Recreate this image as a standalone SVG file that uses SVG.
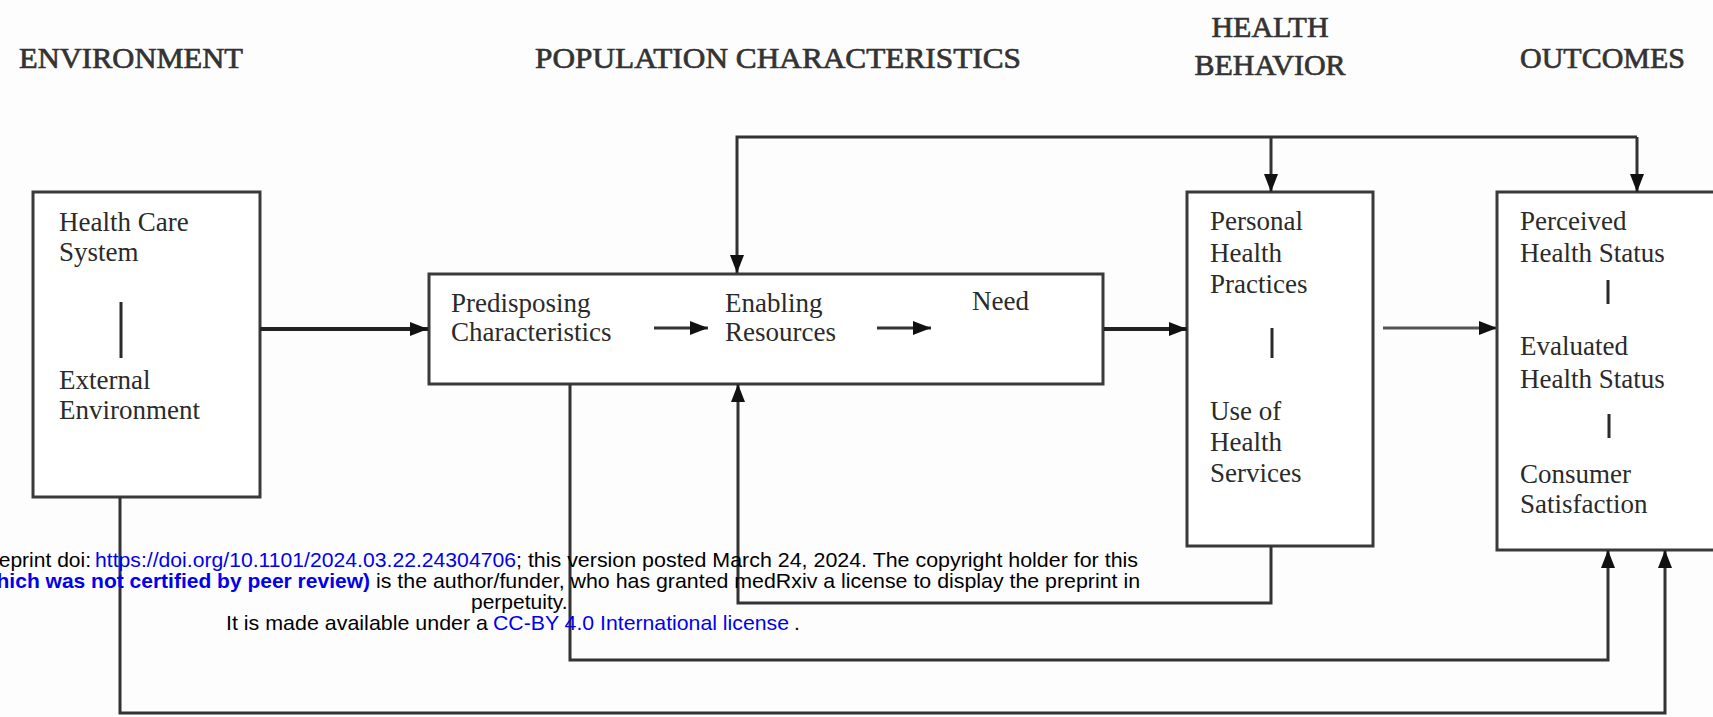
<svg xmlns="http://www.w3.org/2000/svg" width="1713" height="717" viewBox="0 0 1713 717">
<style>
.hdr{font-family:"Liberation Serif","Times New Roman",serif;font-size:30px;fill:#333;stroke:#333;stroke-width:0.7}
.lbl{font-family:"Liberation Serif","Times New Roman",serif;font-size:27px;fill:#2a2a2a}
.box{fill:#fff;stroke:#3a3a3a;stroke-width:3}
.bar{stroke:#2a2a2a;stroke-width:3}
.con{fill:none;stroke:#333;stroke-width:3}
.thick{stroke-width:4;stroke:#222}
.light{stroke:#555}
.ft{font-family:"Liberation Sans",Arial,sans-serif;font-size:21px;fill:#000}
.blue{fill:#0000ee}
</style>
<defs>
<marker id="ah" markerUnits="userSpaceOnUse" markerWidth="18" markerHeight="14" refX="18" refY="7" orient="auto">
<path d="M0,0 L18,7 L0,14 z" fill="#111"/>
</marker>
</defs>
<rect width="1713" height="717" fill="#fdfdfd"/>

<g id="headers">
<text class="hdr" x="19" y="68" textLength="224" lengthAdjust="spacingAndGlyphs">ENVIRONMENT</text>
<text class="hdr" x="535" y="68" textLength="486" lengthAdjust="spacingAndGlyphs">POPULATION CHARACTERISTICS</text>
<text class="hdr" x="1270" y="37" text-anchor="middle">HEALTH</text>
<text class="hdr" x="1270" y="75" text-anchor="middle">BEHAVIOR</text>
<text class="hdr" x="1520" y="68">OUTCOMES</text>
</g>

<g id="environment">
<rect class="box" x="33" y="192" width="227" height="305"/>
<text class="lbl" x="59" y="231">Health Care</text>
<text class="lbl" x="59" y="261">System</text>
<line class="bar" x1="121" y1="302" x2="121" y2="358"/>
<text class="lbl" x="59" y="389">External</text>
<text class="lbl" x="59" y="419">Environment</text>
</g>

<g id="population">
<rect class="box" x="429" y="274" width="674" height="110"/>
<text class="lbl" x="451" y="312">Predisposing</text>
<text class="lbl" x="451" y="341">Characteristics</text>
<text class="lbl" x="725" y="312">Enabling</text>
<text class="lbl" x="725" y="341">Resources</text>
<text class="lbl" x="972" y="310">Need</text>
</g>

<g id="behavior">
<rect class="box" x="1187" y="192" width="186" height="354"/>
<text class="lbl" x="1210" y="230">Personal</text>
<text class="lbl" x="1210" y="262">Health</text>
<text class="lbl" x="1210" y="293">Practices</text>
<line class="bar" x1="1272" y1="328" x2="1272" y2="358"/>
<text class="lbl" x="1210" y="420">Use of</text>
<text class="lbl" x="1210" y="451">Health</text>
<text class="lbl" x="1210" y="482">Services</text>
</g>

<g id="outcomes">
<rect class="box" x="1497" y="192" width="230" height="358"/>
<text class="lbl" x="1520" y="230">Perceived</text>
<text class="lbl" x="1520" y="262">Health Status</text>
<line class="bar" x1="1608" y1="280" x2="1608" y2="304"/>
<text class="lbl" x="1520" y="355">Evaluated</text>
<text class="lbl" x="1520" y="388">Health Status</text>
<line class="bar" x1="1609" y1="414" x2="1609" y2="438"/>
<text class="lbl" x="1520" y="483">Consumer</text>
<text class="lbl" x="1520" y="513">Satisfaction</text>
</g>

<g id="connectors">
<line class="con thick" x1="260" y1="329" x2="428" y2="329" marker-end="url(#ah)"/>
<line class="con" x1="654" y1="328" x2="708" y2="328" marker-end="url(#ah)"/>
<line class="con" x1="877" y1="328" x2="931" y2="328" marker-end="url(#ah)"/>
<line class="con thick" x1="1104" y1="329" x2="1187" y2="329" marker-end="url(#ah)"/>
<line class="con light" x1="1383" y1="328" x2="1497" y2="328" marker-end="url(#ah)"/>
<polyline class="con" points="1637,137 737,137 737,273" marker-end="url(#ah)"/>
<line class="con" x1="1271" y1="137" x2="1271" y2="192" marker-end="url(#ah)"/>
<line class="con" x1="1637" y1="137" x2="1637" y2="192" marker-end="url(#ah)"/>
<polyline class="con" points="1271,546 1271,603 738,603 738,384" marker-end="url(#ah)"/>
<polyline class="con" points="570,384 570,660 1608,660 1608,550" marker-end="url(#ah)"/>
<polyline class="con" points="120,497 120,713 1665,713 1665,550" marker-end="url(#ah)"/>
</g>

<g id="footer">
<text class="ft" x="91" y="567" text-anchor="end">eprint doi:</text>
<text class="ft blue" x="95" y="567" textLength="421" lengthAdjust="spacingAndGlyphs">https://doi.org/10.1101/2024.03.22.24304706</text>
<text class="ft" x="516" y="567" textLength="622" lengthAdjust="spacingAndGlyphs">; this version posted March 24, 2024. The copyright holder for this</text>
<text class="ft blue" x="370" y="588" text-anchor="end" font-weight="bold">hich was not certified by peer review)</text>
<text class="ft" x="376" y="588" textLength="764" lengthAdjust="spacingAndGlyphs">is the author/funder, who has granted medRxiv a license to display the preprint in</text>
<text class="ft" x="471" y="609">perpetuity.</text>
<text class="ft" x="226" y="630" textLength="262" lengthAdjust="spacingAndGlyphs">It is made available under a</text>
<text class="ft blue" x="493" y="630" textLength="296" lengthAdjust="spacingAndGlyphs">CC-BY 4.0 International license</text>
<text class="ft" x="794" y="630">.</text>
</g>
</svg>
